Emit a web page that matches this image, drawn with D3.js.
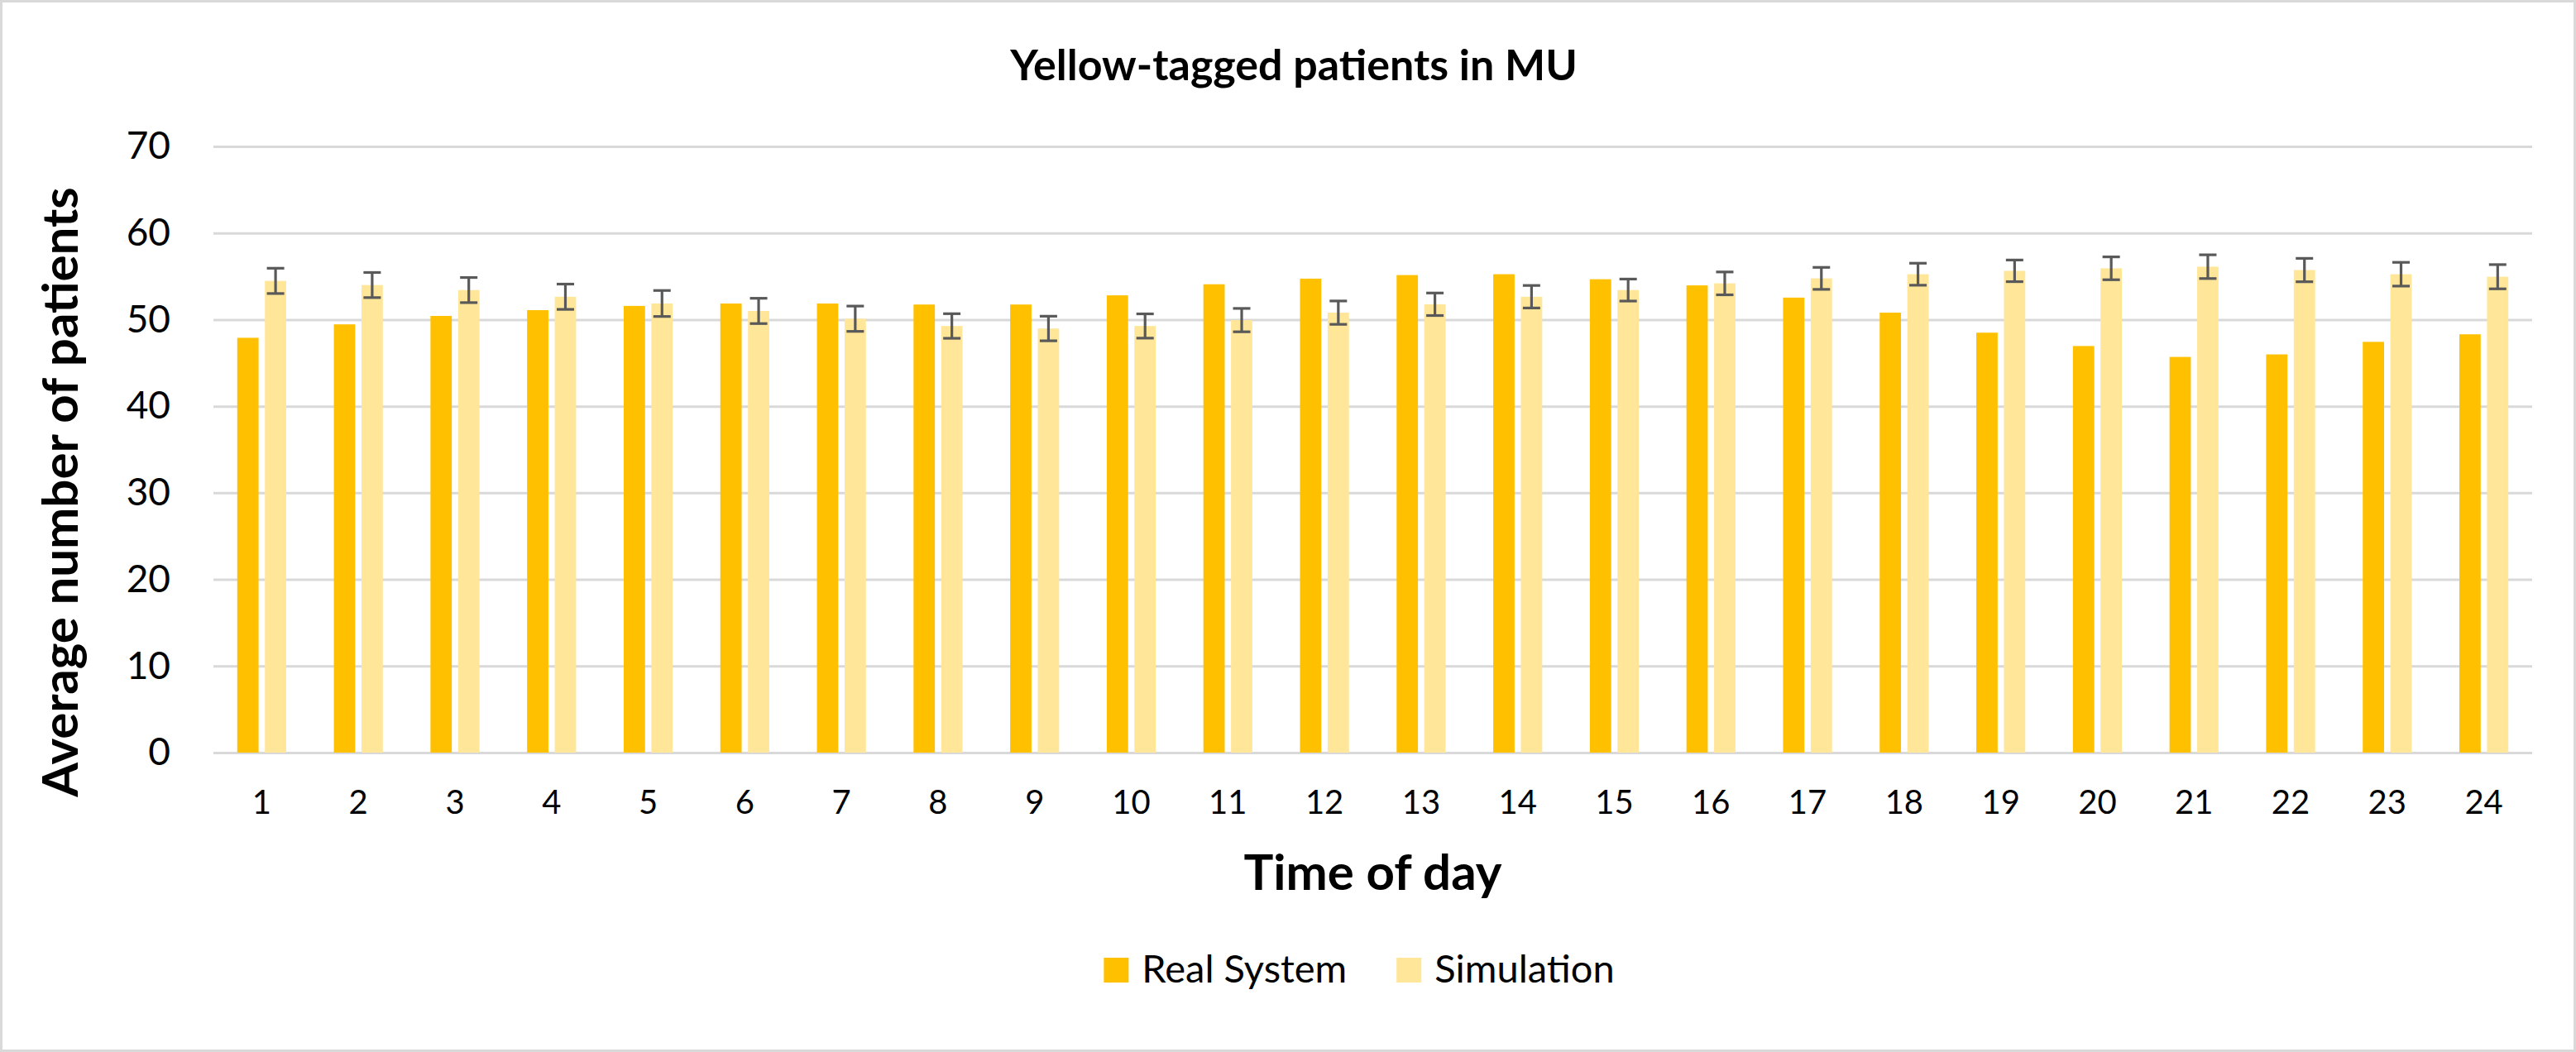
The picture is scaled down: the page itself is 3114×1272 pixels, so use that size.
<!DOCTYPE html>
<html>
<head>
<meta charset="utf-8">
<title>Yellow-tagged patients in MU</title>
<script src="https://cdn.jsdelivr.net/npm/d3@7"></script>
<style>
  html, body { margin: 0; padding: 0; background: #fff; }
  text { font-family: Lato, "Open Sans", sans-serif; fill: #000; }
</style>
</head>
<body>
<div id="chart"></div>
<script>
// data
const hours = ["1","2","3","4","5","6","7","8","9","10","11","12","13","14","15","16","17","18","19","20","21","22","23","24"];
const seriesNames = ["Real System", "Simulation"];
const realSystem = [47.9, 49.45, 50.42, 51.09, 51.58, 51.86, 51.86, 51.74, 51.74, 52.8, 54.08, 54.73,
                    55.14, 55.24, 54.66, 53.95, 52.54, 50.8, 48.49, 46.95, 45.69, 45.98, 47.43, 48.3];
const simulation = [54.47, 53.99, 53.41, 52.64, 51.86, 51.0, 50.1, 49.26, 48.97, 49.26, 49.94, 50.8,
                    51.77, 52.64, 53.41, 54.18, 54.76, 55.24, 55.63, 55.92, 56.11, 55.72, 55.24, 54.95];
const simError = [1.46, 1.45, 1.45, 1.46, 1.5, 1.46, 1.46, 1.42, 1.42, 1.4, 1.35, 1.35,
                  1.3, 1.3, 1.27, 1.32, 1.27, 1.27, 1.25, 1.32, 1.37, 1.35, 1.37, 1.4];
const yTicks = [0, 10, 20, 30, 40, 50, 60, 70];

const W = 3114, H = 1272;
const plot = { left: 258, right: 3061, top: 177, bottom: 910 };
const colors = { "Real System": "#FFC000", "Simulation": "#FFE699" };

const svg = d3.select("#chart").append("svg")
    .attr("width", W)
    .attr("height", H);

svg.append("rect")
    .attr("x", 1.5).attr("y", 1.5)
    .attr("width", W - 3).attr("height", H - 3)
    .attr("fill", "#fff")
    .attr("stroke", "#D9D9D9")
    .attr("stroke-width", 3);

const x0 = d3.scaleBand().domain(hours).range([plot.left, plot.right]).padding(0);
const groupWidth = 59.2;
const x1 = d3.scaleBand().domain(seriesNames).range([0, groupWidth]).paddingInner(0.228);
const y = d3.scaleLinear().domain([0, 70]).range([plot.bottom, plot.top]);

// gridlines + y tick labels
const yAxis = d3.axisLeft(y).tickValues(yTicks).tickSize(-(plot.right - plot.left)).tickPadding(52);
const gy = svg.append("g").attr("transform", `translate(${plot.left},0)`).call(yAxis);
gy.select(".domain").remove();
gy.selectAll(".tick line").attr("stroke", "#D9D9D9").attr("stroke-width", 3);
gy.selectAll(".tick text")
    .attr("font-family", "Lato, sans-serif")
    .attr("font-size", 46)
    .attr("fill", "#000");

// x tick labels
const xAxis = d3.axisBottom(x0).tickSize(0).tickPadding(46);
const gx = svg.append("g").attr("transform", `translate(0,${plot.bottom})`).call(xAxis);
gx.select(".domain").remove();
gx.selectAll(".tick text")
    .attr("font-family", "Lato, sans-serif")
    .attr("font-size", 40)
    .attr("fill", "#000");

// bars
const rows = hours.map((h, i) => ({ hour: h, values: [
    { key: "Real System", value: realSystem[i] },
    { key: "Simulation", value: simulation[i], err: simError[i] }
]}));

const groups = svg.append("g").selectAll("g")
    .data(rows)
    .join("g")
    .attr("transform", d => `translate(${x0(d.hour) + (x0.bandwidth() - groupWidth) / 2},0)`);

groups.selectAll("rect")
    .data(d => d.values)
    .join("rect")
    .attr("x", d => x1(d.key))
    .attr("y", d => y(d.value))
    .attr("width", x1.bandwidth())
    .attr("height", d => y(0) - y(d.value))
    .attr("fill", d => colors[d.key]);

// error bars on the simulation series
const capHalf = 10.5;
const errs = groups.append("g")
    .attr("stroke", "#595959")
    .attr("stroke-width", 3.2)
    .datum(d => d.values[1]);
const cx = x1("Simulation") + x1.bandwidth() / 2;
errs.append("line")
    .attr("x1", cx).attr("x2", cx)
    .attr("y1", d => y(d.value + d.err)).attr("y2", d => y(d.value - d.err));
errs.append("line")
    .attr("x1", cx - capHalf).attr("x2", cx + capHalf)
    .attr("y1", d => y(d.value + d.err)).attr("y2", d => y(d.value + d.err));
errs.append("line")
    .attr("x1", cx - capHalf).attr("x2", cx + capHalf)
    .attr("y1", d => y(d.value - d.err)).attr("y2", d => y(d.value - d.err));

// titles
svg.append("text")
    .attr("x", 1564).attr("y", 97)
    .attr("text-anchor", "middle")
    .attr("font-size", 52)
    .attr("font-weight", "bold")
    .text("Yellow-tagged patients in MU");

svg.append("text")
    .attr("x", (plot.left + plot.right) / 2).attr("y", 1076)
    .attr("text-anchor", "middle")
    .attr("font-size", 60)
    .attr("font-weight", "bold")
    .text("Time of day");

svg.append("text")
    .attr("transform", "translate(94,595) rotate(-90)")
    .attr("text-anchor", "middle")
    .attr("font-size", 60)
    .attr("font-weight", "bold")
    .text("Average number of patients");

// legend, laid out from measured label widths
const legend = svg.append("g");
const sw = 30, swGap = 16, itemGap = 60, legendCenter = 1643, legendBase = 1188;
let cursor = 0;
seriesNames.forEach(name => {
    const g = legend.append("g");
    g.append("rect").attr("width", sw).attr("height", sw).attr("y", legendBase - sw).attr("fill", colors[name]);
    const t = g.append("text").attr("x", sw + swGap).attr("y", legendBase).attr("font-size", 47).text(name);
    const w = sw + swGap + t.node().getComputedTextLength();
    g.attr("transform", `translate(${cursor},0)`);
    cursor += w + itemGap;
});
const legendWidth = cursor - itemGap;
legend.attr("transform", `translate(${legendCenter - legendWidth / 2},0)`);
</script>
</body>
</html>
